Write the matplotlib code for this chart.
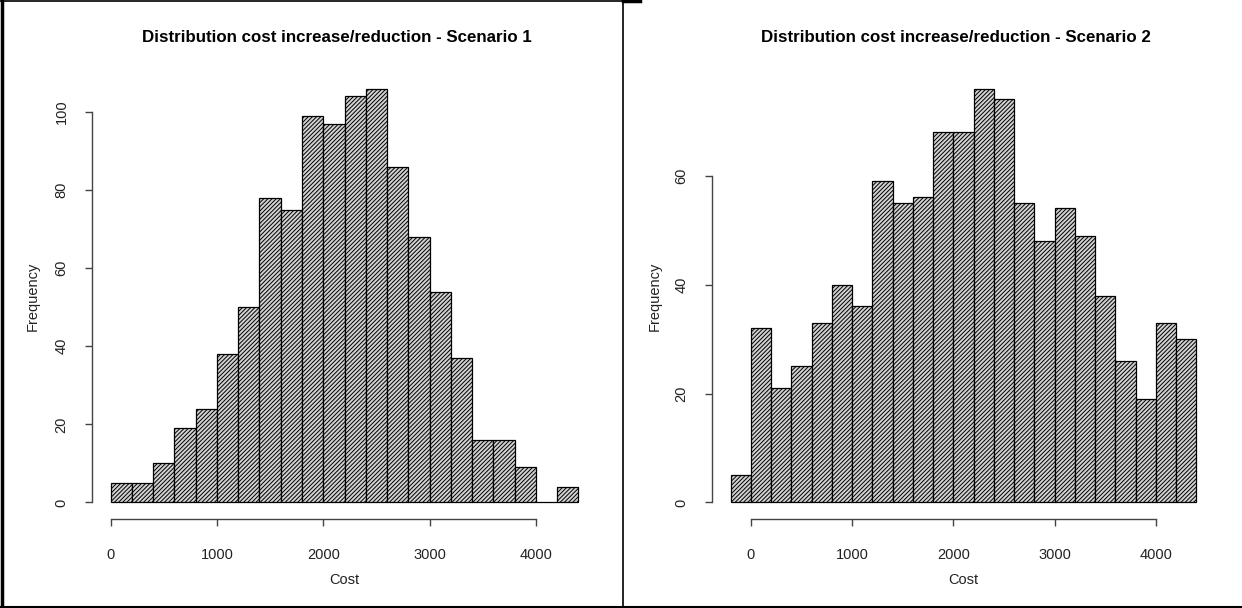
import matplotlib
matplotlib.use("Agg")
import matplotlib.pyplot as plt
from matplotlib.lines import Line2D
import numpy as np

plt.rcParams['font.family'] = ['Liberation Sans', 'DejaVu Sans']
plt.rcParams['hatch.linewidth'] = 0.7
plt.rcParams['hatch.color'] = 'black'

# histogram counts (bin width 200)
bin_width = 200
edges1 = np.arange(0, 4400, bin_width)
counts1 = [5, 5, 10, 19, 24, 38, 50, 78, 75, 99, 97, 104, 106, 86, 68, 54, 37, 16, 16, 9, 0, 4]
edges2 = np.arange(-200, 4400, bin_width)
counts2 = [5, 32, 21, 25, 33, 40, 36, 59, 55, 56, 68, 68, 76, 74, 55, 48, 54, 49, 38, 26, 19, 33, 30]

titles = ["Distribution cost increase/reduction - Scenario 1",
          "Distribution cost increase/reduction - Scenario 2"]
xticks = [0, 1000, 2000, 3000, 4000]
yticks1 = [0, 20, 40, 60, 80, 100]
yticks2 = [0, 20, 40, 60]

W, H = 1242, 608
fig = plt.figure(figsize=(W / 100, H / 100), dpi=100)


def px(x, y):
    return x / W, 1 - y / H


def r_hist(rect, edges, counts, yticks, title, x0, x1):
    ax = fig.add_axes(rect)
    ax.bar(edges, counts, width=bin_width, align='edge', facecolor='#d2d2d2',
           edgecolor='black', linewidth=0.9, hatch='////////')
    lo, hi = edges[0], edges[-1] + bin_width
    ext = 0.04 * (hi - lo)
    ax.set_xlim(lo - ext, hi + ext)
    top = max(counts)
    ax.set_ylim(-0.04 * top, top * 1.04)
    for s in ['top', 'right']:
        ax.spines[s].set_visible(False)
    for s in ['left', 'bottom']:
        ax.spines[s].set_color('#444444')
        ax.spines[s].set_linewidth(1)
    ax.spines['left'].set_bounds(yticks[0], yticks[-1])
    ax.spines['bottom'].set_bounds(xticks[0], xticks[-1])
    ax.set_xticks(xticks)
    ax.set_yticks(yticks)
    ax.tick_params(direction='out', length=5, width=1, color='#444444',
                   labelsize=10.5, labelcolor='#222222')
    ax.tick_params(axis='x', pad=16)
    ax.tick_params(axis='y', pad=12)
    for lab in ax.get_yticklabels():
        lab.set_rotation(90)
        lab.set_va('center')
    cx = (x0 + x1) / 2
    fig.text(*px(cx - 8, 38), title, ha='center', va='center', fontsize=12.2,
             fontweight='bold')
    fig.text(*px(cx, 580), "Cost", ha='center', va='center', fontsize=10.5,
             color='#222222')
    return ax


r_hist([92 / W, 1 - 519 / H, 505 / W, 447 / H], edges1, counts1, yticks1, titles[0], 92, 597)
fig.text(*px(33, 296), "Frequency", ha='center', va='center', rotation=90,
         fontsize=10.5, color='#222222')
r_hist([712 / W, 1 - 519 / H, 503 / W, 447 / H], edges2, counts2, yticks2, titles[1], 712, 1215)
fig.text(*px(655, 296), "Frequency", ha='center', va='center', rotation=90,
         fontsize=10.5, color='#222222')

# outer frame of the two panels
for (xa, ya, xb, yb, lw) in [(1.5, 0.5, 1.5, 607, 2.5), (0, 0.7, 623, 0.7, 1.2),
                             (623, 1, 640, 1, 2.5),
                             (0, 606.5, 1242, 606.5, 1.5), (623, 0, 623, 607, 1.2)]:
    (fx0, fy0), (fx1, fy1) = px(xa, ya), px(xb, yb)
    fig.add_artist(Line2D([fx0, fx1], [fy0, fy1], transform=fig.transFigure,
                          color='black', linewidth=lw))

fig.savefig("out.png", dpi=100)
